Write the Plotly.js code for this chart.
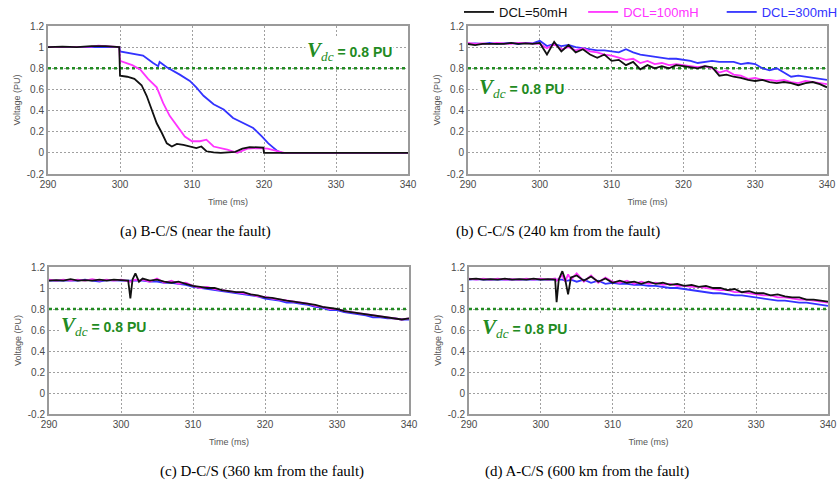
<!DOCTYPE html>
<html>
<head>
<meta charset="utf-8">
<script src="https://cdn.plot.ly/plotly-3.0.1.min.js"></script>
<style>html,body{margin:0;padding:0;background:#fff;} #chart{width:837px;height:484px;}</style>
</head>
<body>
<div id="chart"></div>
<script>
// ---------- data ----------
const seriesNames = ["DCL=50mH", "DCL=100mH", "DCL=300mH"];
const vdcLevel = 0.8;
const xTicks = [290, 300, 310, 320, 330, 340];
const yTicks = [-0.2, 0, 0.2, 0.4, 0.6, 0.8, 1, 1.2];
const yTickText = ["-0.2", "0", "0.2", "0.4", "0.6", "0.8", "1", "1.2"];
const captions = ["(a) B-C/S (near the fault)", "(b) C-C/S (240 km from the fault)",
                  "(c) D-C/S (360 km from the fault)", "(d) A-C/S (600 km from the fault)"];

// Panel (a)
const tA_black = [290,292,294,296,298,299.9,300,301,302,303,303.7,304.4,305.1,305.8,306.5,307.2,307.9,308.8,309.7,310.6,311.3,312,313,314,316,317,318,319,319.9,320,322,325,330,340];
const vA_black = [1.0,1.005,1.0,1.01,1.01,1.0,0.73,0.72,0.70,0.64,0.54,0.41,0.28,0.19,0.09,0.06,0.085,0.075,0.06,0.045,0.06,0.015,0.005,0,0.01,0.04,0.055,0.05,0.05,0,0,0,0,0];
const tA_magenta = [290,292,294,296,297,298,299.9,300,301.7,302.8,303.9,305.1,306,306.9,308.1,309,310,311.1,312,313,314.9,316.3,317.7,319.1,320.5,321.9,322.8,330,340];
const vA_magenta = [1.0,1.0,1.005,1.005,1.015,1.01,1.0,0.87,0.83,0.79,0.70,0.62,0.47,0.35,0.24,0.155,0.11,0.11,0.125,0.06,0.03,0.0,0.04,0.045,0.04,0.015,0,0,0];
const tA_blue = [290,294,298,299.9,300,301.7,303.2,304.6,305.3,305.5,306.5,308.3,309.7,310.6,311.6,313,314.4,315.7,317.1,318.5,319.7,320.6,321.8,322.5,330,340];
const vA_blue = [1.0,1.0,1.005,1.0,0.96,0.94,0.92,0.85,0.82,0.86,0.81,0.74,0.68,0.62,0.54,0.46,0.41,0.33,0.28,0.235,0.155,0.09,0.02,0,0,0];

// Panel (b)
const tB = [290,291,292,293,294,295,296,297,298,299,300,301,302,303,304,305,306,307,308,309,310,311,312,313,314,315,316,317,318,319,320,321,322,323,324,325,326,327,328,329,330,331,332,333,334,335,336,337,338,339,340];
const vB_black = [1.03,1.02,1.03,1.03,1.035,1.03,1.04,1.03,1.035,1.03,1.04,0.93,1.05,0.96,1.02,0.95,0.98,0.93,0.90,0.93,0.87,0.88,0.83,0.86,0.79,0.83,0.80,0.82,0.80,0.83,0.82,0.81,0.80,0.82,0.81,0.73,0.74,0.72,0.71,0.69,0.68,0.69,0.67,0.66,0.67,0.66,0.64,0.66,0.67,0.65,0.62];
const vB_magenta = [1.04,1.03,1.035,1.03,1.04,1.035,1.03,1.04,1.035,1.03,1.03,0.99,1.03,0.98,1.0,0.97,0.99,0.96,0.95,0.93,0.92,0.90,0.88,0.89,0.85,0.87,0.84,0.85,0.83,0.84,0.83,0.82,0.81,0.82,0.80,0.76,0.78,0.74,0.73,0.70,0.71,0.69,0.69,0.68,0.69,0.67,0.66,0.68,0.67,0.66,0.65];
const vB_blue = [1.03,1.035,1.03,1.04,1.03,1.035,1.04,1.03,1.04,1.035,1.06,1.01,1.03,1.01,1.02,1.0,0.99,0.98,0.97,0.97,0.96,0.95,0.98,0.95,0.93,0.92,0.91,0.90,0.89,0.89,0.88,0.87,0.85,0.86,0.87,0.86,0.86,0.86,0.84,0.85,0.84,0.80,0.78,0.80,0.76,0.72,0.73,0.72,0.71,0.70,0.69];

// Panel (c)
const tC = [290,291,292,293,294,295,296,297,298,299,300,301,301.3,301.6,302,302.5,303,304,305,306,307,308,309,310,311,312,313,314,315,316,317,318,319,320,321,322,323,324,325,326,327,328,329,330,331,332,333,334,335,336,337,338,339,340];
const vC_black = [1.07,1.075,1.07,1.085,1.07,1.075,1.07,1.08,1.07,1.08,1.075,1.07,0.90,1.08,1.14,1.06,1.09,1.07,1.08,1.06,1.05,1.06,1.04,1.02,1.01,1.0,1.0,0.98,0.97,0.96,0.96,0.94,0.93,0.91,0.905,0.89,0.88,0.87,0.86,0.85,0.84,0.82,0.81,0.80,0.78,0.77,0.76,0.75,0.74,0.73,0.72,0.71,0.70,0.71];
const vC_magenta = [1.08,1.07,1.08,1.07,1.08,1.07,1.085,1.07,1.08,1.07,1.08,1.07,1.06,1.07,1.08,1.07,1.08,1.06,1.09,1.05,1.07,1.04,1.05,1.02,1.0,1.01,0.99,0.98,0.97,0.965,0.95,0.94,0.92,0.915,0.90,0.89,0.875,0.87,0.855,0.85,0.83,0.82,0.80,0.80,0.78,0.77,0.76,0.75,0.74,0.73,0.72,0.71,0.70,0.71];
const vC_blue = [1.07,1.07,1.075,1.07,1.07,1.08,1.07,1.06,1.075,1.07,1.07,1.07,1.07,1.07,1.07,1.07,1.07,1.06,1.06,1.05,1.05,1.04,1.03,1.01,1.0,0.99,0.98,0.97,0.96,0.95,0.94,0.93,0.92,0.90,0.89,0.88,0.86,0.86,0.85,0.84,0.82,0.81,0.79,0.79,0.77,0.76,0.75,0.74,0.72,0.72,0.71,0.71,0.70,0.70];

// Panel (d)
const tD = [290,291,292,293,294,295,296,297,298,299,300,301,302,302.2,302.5,303,303.4,303.8,304.2,305,306,307,308,309,310,311,312,313,314,315,316,317,318,319,320,321,322,323,324,325,326,327,328,329,330,331,332,333,334,335,336,337,338,339,340];
const vD_black = [1.085,1.09,1.08,1.085,1.08,1.09,1.08,1.085,1.08,1.09,1.08,1.085,1.08,0.865,1.08,1.16,1.08,0.94,1.10,1.12,1.07,1.11,1.06,1.09,1.05,1.07,1.05,1.06,1.04,1.06,1.04,1.05,1.03,1.04,1.02,1.03,1.01,1.02,1.0,1.0,0.98,0.99,0.96,0.97,0.95,0.95,0.93,0.94,0.92,0.91,0.91,0.89,0.89,0.88,0.87];
const vD_magenta = [1.09,1.08,1.09,1.08,1.09,1.08,1.085,1.08,1.09,1.08,1.09,1.08,1.09,1.07,1.09,1.12,1.06,1.13,1.08,1.14,1.06,1.12,1.05,1.10,1.06,1.05,1.07,1.04,1.06,1.04,1.05,1.03,1.04,1.02,1.02,1.01,1.01,1.0,0.99,0.98,0.98,0.96,0.96,0.95,0.94,0.93,0.93,0.91,0.91,0.90,0.89,0.89,0.88,0.87,0.86];
const vD_blue = [1.08,1.085,1.08,1.08,1.085,1.08,1.08,1.085,1.08,1.08,1.08,1.08,1.08,1.08,1.08,1.08,1.07,1.07,1.08,1.06,1.08,1.05,1.07,1.04,1.05,1.04,1.04,1.03,1.03,1.02,1.02,1.01,1.0,1.0,0.99,0.98,0.97,0.96,0.95,0.95,0.94,0.93,0.93,0.92,0.91,0.90,0.89,0.88,0.88,0.87,0.86,0.86,0.85,0.84,0.83];

// ---------- styling ----------
const W = 837, H = 484;
const colors = {black: "#111111", magenta: "#ff33ff", blue: "#3333ff"};
const vdcColor = "#228b22";
const panels = [
  {x0: 48, x1: 408, y0: 26, y1: 174, series: [[tA_blue, vA_blue, "blue"], [tA_magenta, vA_magenta, "magenta"], [tA_black, vA_black, "black"]],
   ann: {x: 331.9, y: 0.96}, cap: {x: 195, y: 232}},
  {x0: 468, x1: 827, y0: 26, y1: 174, series: [[tB, vB_blue, "blue"], [tB, vB_magenta, "magenta"], [tB, vB_black, "black"]],
   ann: {x: 297.5, y: 0.61}, cap: {x: 558, y: 232}},
  {x0: 49, x1: 409, y0: 267, y1: 414, series: [[tC, vC_blue, "blue"], [tC, vC_magenta, "magenta"], [tC, vC_black, "black"]],
   ann: {x: 297.5, y: 0.635}, cap: {x: 262, y: 471}},
  {x0: 469, x1: 828, y0: 267, y1: 414, series: [[tD, vD_blue, "blue"], [tD, vD_magenta, "magenta"], [tD, vD_black, "black"]],
   ann: {x: 297.7, y: 0.62}, cap: {x: 587, y: 471}}
];
const nameFor = {black: seriesNames[0], magenta: seriesNames[1], blue: seriesNames[2]};
const padFor = {black: "&nbsp;&nbsp;&nbsp;", magenta: "&nbsp;&nbsp;&nbsp;&nbsp;&nbsp;", blue: ""};
const rankFor = {black: 1, magenta: 2, blue: 3};

const traces = [];
const layout = {
  width: W, height: H,
  margin: {l: 0, r: 0, t: 0, b: 0, autoexpand: false},
  paper_bgcolor: "#fff", plot_bgcolor: "#fff",
  showlegend: true,
  legend: {orientation: "h", x: 459 / W, y: 1 + 3 / H, xanchor: "left", yanchor: "top",
           font: {family: "Liberation Sans, Arial", size: 13, color: "#000"},
           bgcolor: "rgba(0,0,0,0)", tracegroupgap: 0, itemwidth: 30},
  annotations: [], shapes: []
};

panels.forEach((p, i) => {
  const n = i + 1;
  const xa = "x" + (n === 1 ? "" : n), ya = "y" + (n === 1 ? "" : n);
  const xk = "xaxis" + (n === 1 ? "" : n), yk = "yaxis" + (n === 1 ? "" : n);
  layout[xk] = {
    domain: [p.x0 / W, p.x1 / W], range: [290, 340], anchor: ya, automargin: false,
    tickvals: xTicks, ticktext: xTicks.map(String),
    showline: true, mirror: true, linecolor: "#9a9a9a", linewidth: 2,
    showgrid: true, gridcolor: "#a0a0a0", gridwidth: 1, griddash: "2px,2px",
    zeroline: false, ticks: "",
    tickfont: {family: "Liberation Sans, Arial", size: 10, color: "#4a4a4a"},
    title: {text: "Time (ms)", font: {family: "Liberation Sans, Arial", size: 9, color: "#555"}, standoff: 10}
  };
  layout[yk] = {
    domain: [1 - p.y1 / H, 1 - p.y0 / H], range: [-0.2, 1.2], anchor: xa, automargin: false,
    tickvals: yTicks, ticktext: yTickText,
    showline: true, mirror: true, linecolor: "#9a9a9a", linewidth: 2,
    showgrid: true, gridcolor: "#a0a0a0", gridwidth: 1, griddash: "2px,2px",
    zeroline: false, ticks: "",
    tickfont: {family: "Liberation Sans, Arial", size: 10, color: "#4a4a4a"},
    title: {text: "Voltage (PU)", font: {family: "Liberation Sans, Arial", size: 9, color: "#555"}, standoff: 5}
  };
  traces.push({x: [290, 340], y: [vdcLevel, vdcLevel], xaxis: xa, yaxis: ya, mode: "lines",
    line: {color: vdcColor, width: 2.5, dash: "3px,3px"}, showlegend: false, hoverinfo: "skip"});
  p.series.forEach(s => {
    traces.push({x: s[0], y: s[1], xaxis: xa, yaxis: ya, mode: "lines",
      line: {color: colors[s[2]], width: 1.8},
      name: '<span style="color:' + colors[s[2]] + '">' + nameFor[s[2]] + '</span>' + padFor[s[2]],
      legendrank: rankFor[s[2]], showlegend: n === 2});
  });
  layout.annotations.push({
    xref: xa, yref: ya, x: p.ann.x, y: p.ann.y, showarrow: false, bgcolor: "#fff",
    xanchor: "center", yanchor: "middle",
    text: '<span style="font-family:Liberation Serif;font-size:21px"><b><i>V</i></b></span><span style="font-family:Liberation Serif;font-size:19px"><i><sub>dc</sub></i></span><b> = 0.8 PU</b>',
    font: {family: "Liberation Sans, Arial", size: 14, color: vdcColor}
  });
  layout.annotations.push({
    xref: "paper", yref: "paper", x: p.cap.x / W, y: 1 - p.cap.y / H, showarrow: false,
    xanchor: "center", yanchor: "middle",
    text: captions[i], font: {family: "Liberation Serif, Times New Roman", size: 15, color: "#000"}
  });
});

Plotly.newPlot("chart", traces, layout, {staticPlot: true});
</script>
</body>
</html>
